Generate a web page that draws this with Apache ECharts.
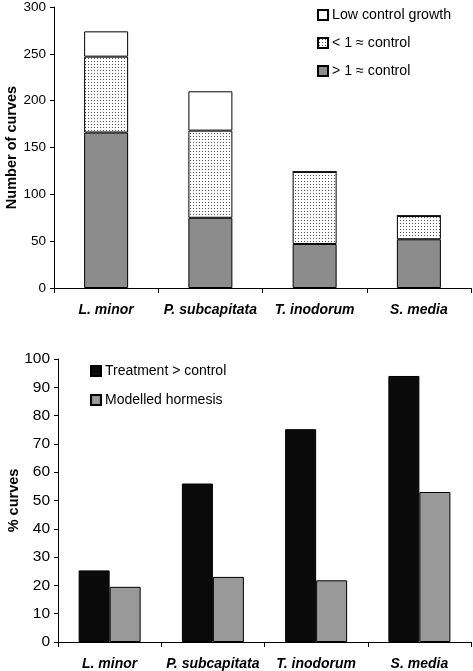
<!DOCTYPE html>
<html><head><meta charset="utf-8">
<script src="https://cdn.jsdelivr.net/npm/echarts@6/dist/echarts.min.js"></script>
<style>html,body{margin:0;padding:0;background:#fff}#c{width:473px;height:671px}</style>
</head><body><div id="c"></div>
<script>
const categories = ['L. minor', 'P. subcapitata', 'T. inodorum', 'S. media'];
// top chart: stacked segments
const gtOne = [166, 75, 47, 52];
const ltOne = [81, 93, 77, 25];
const lowCtrl = [27, 42, 0, 0];
const topTicks = [0, 50, 100, 150, 200, 250, 300];
// bottom chart
const treatment = [25.3, 56, 75.2, 94];
const hormesis = [19.5, 23, 21.8, 53];
const bottomTicks = [0, 10, 20, 30, 40, 50, 60, 70, 80, 90, 100];

const cv = document.createElement('canvas');
cv.width = 3; cv.height = 3;
const cx = cv.getContext('2d');
cx.fillStyle = '#fff'; cx.fillRect(0, 0, 3, 3);
cx.fillStyle = '#555'; cx.fillRect(1, 1, 1, 1);
const dotPattern = { image: cv, repeat: 'repeat' };

const font = 'Liberation Sans, Arial, sans-serif';
const chart = echarts.init(document.getElementById('c'));
const axisLine = { show: true, lineStyle: { color: '#000', width: 1 } };
chart.setOption({
  animation: false,
  backgroundColor: '#fff',
  textStyle: { fontFamily: font, color: '#000' },
  grid: [
    { left: 54, right: 2, top: 7, bottom: 383, containLabel: false, outerBoundsMode: 'none' },
    { left: 58, right: 2, top: 359, bottom: 29, containLabel: false, outerBoundsMode: 'none' }
  ],
  legend: [
    {
      orient: 'vertical', left: 317, top: 8, padding: 0, itemWidth: 10, itemHeight: 10, itemGap: 14,
      icon: 'rect', textStyle: { fontSize: 14.2, fontFamily: font, color: '#000', padding: [0, 0, 0, -1] },
      data: ['Low control growth', '< 1 \u2248 control', '> 1 \u2248 control']
    },
    {
      orient: 'vertical', left: 90, top: 364, padding: 0, itemWidth: 10, itemHeight: 10, itemGap: 15,
      icon: 'rect', textStyle: { fontSize: 14, fontFamily: font, color: '#000', padding: [0, 0, 0, -1] },
      data: ['Treatment > control', 'Modelled hormesis']
    }
  ],
  xAxis: [
    { type: 'category', gridIndex: 0, data: categories, axisLine,
      axisTick: { show: true, length: 5, lineStyle: { color: '#000' } },
      axisLabel: { interval: 0, fontSize: 14, fontWeight: 'bold', fontStyle: 'italic', color: '#000', margin: 15, fontFamily: font } },
    { type: 'category', gridIndex: 1, data: categories, axisLine,
      axisTick: { show: true, length: 5, lineStyle: { color: '#000' } },
      axisLabel: { interval: 0, fontSize: 14, fontWeight: 'bold', fontStyle: 'italic', color: '#000', margin: 15, fontFamily: font } }
  ],
  yAxis: [
    { type: 'value', gridIndex: 0, min: topTicks[0], max: topTicks[topTicks.length - 1], interval: 50,
      axisLine, axisTick: { show: true, length: 4, lineStyle: { color: '#000' } }, splitLine: { show: false },
      axisLabel: { fontSize: 13.5, color: '#000', margin: 8, fontFamily: font },
      name: 'Number of curves', nameLocation: 'middle', nameGap: 35, nameMoveOverlap: false,
      nameTextStyle: { fontSize: 14.5, fontWeight: 'bold', color: '#000', fontFamily: font } },
    { type: 'value', gridIndex: 1, min: bottomTicks[0], max: bottomTicks[bottomTicks.length - 1], interval: 10,
      axisLine, axisTick: { show: true, length: 4, lineStyle: { color: '#000' } }, splitLine: { show: false },
      axisLabel: { fontSize: 15.5, color: '#000', margin: 8, fontFamily: font },
      name: '% curves', nameLocation: 'middle', nameGap: 37, nameMoveOverlap: false,
      nameTextStyle: { fontSize: 14.5, fontWeight: 'bold', color: '#000', fontFamily: font } }
  ],
  series: [
    { name: '> 1 \u2248 control', type: 'bar', stack: 'a', xAxisIndex: 0, yAxisIndex: 0, barWidth: 44,
      data: gtOne, itemStyle: { color: '#8c8c8c', borderColor: '#000', borderWidth: 1 } },
    { name: '< 1 \u2248 control', type: 'bar', stack: 'a', xAxisIndex: 0, yAxisIndex: 0, barWidth: 44,
      data: ltOne, itemStyle: { color: dotPattern, borderColor: '#000', borderWidth: 1 } },
    { name: 'Low control growth', type: 'bar', stack: 'a', xAxisIndex: 0, yAxisIndex: 0, barWidth: 44,
      data: lowCtrl, itemStyle: { color: '#fff', borderColor: '#000', borderWidth: 1 } },
    { name: 'Treatment > control', type: 'bar', xAxisIndex: 1, yAxisIndex: 1, barWidth: 31, barGap: '0%',
      data: treatment, itemStyle: { color: '#0a0a0a', borderColor: '#000', borderWidth: 1 } },
    { name: 'Modelled hormesis', type: 'bar', xAxisIndex: 1, yAxisIndex: 1, barWidth: 31, barGap: '0%',
      data: hormesis, itemStyle: { color: '#999', borderColor: '#000', borderWidth: 1 } }
  ]
});
</script></body></html>
